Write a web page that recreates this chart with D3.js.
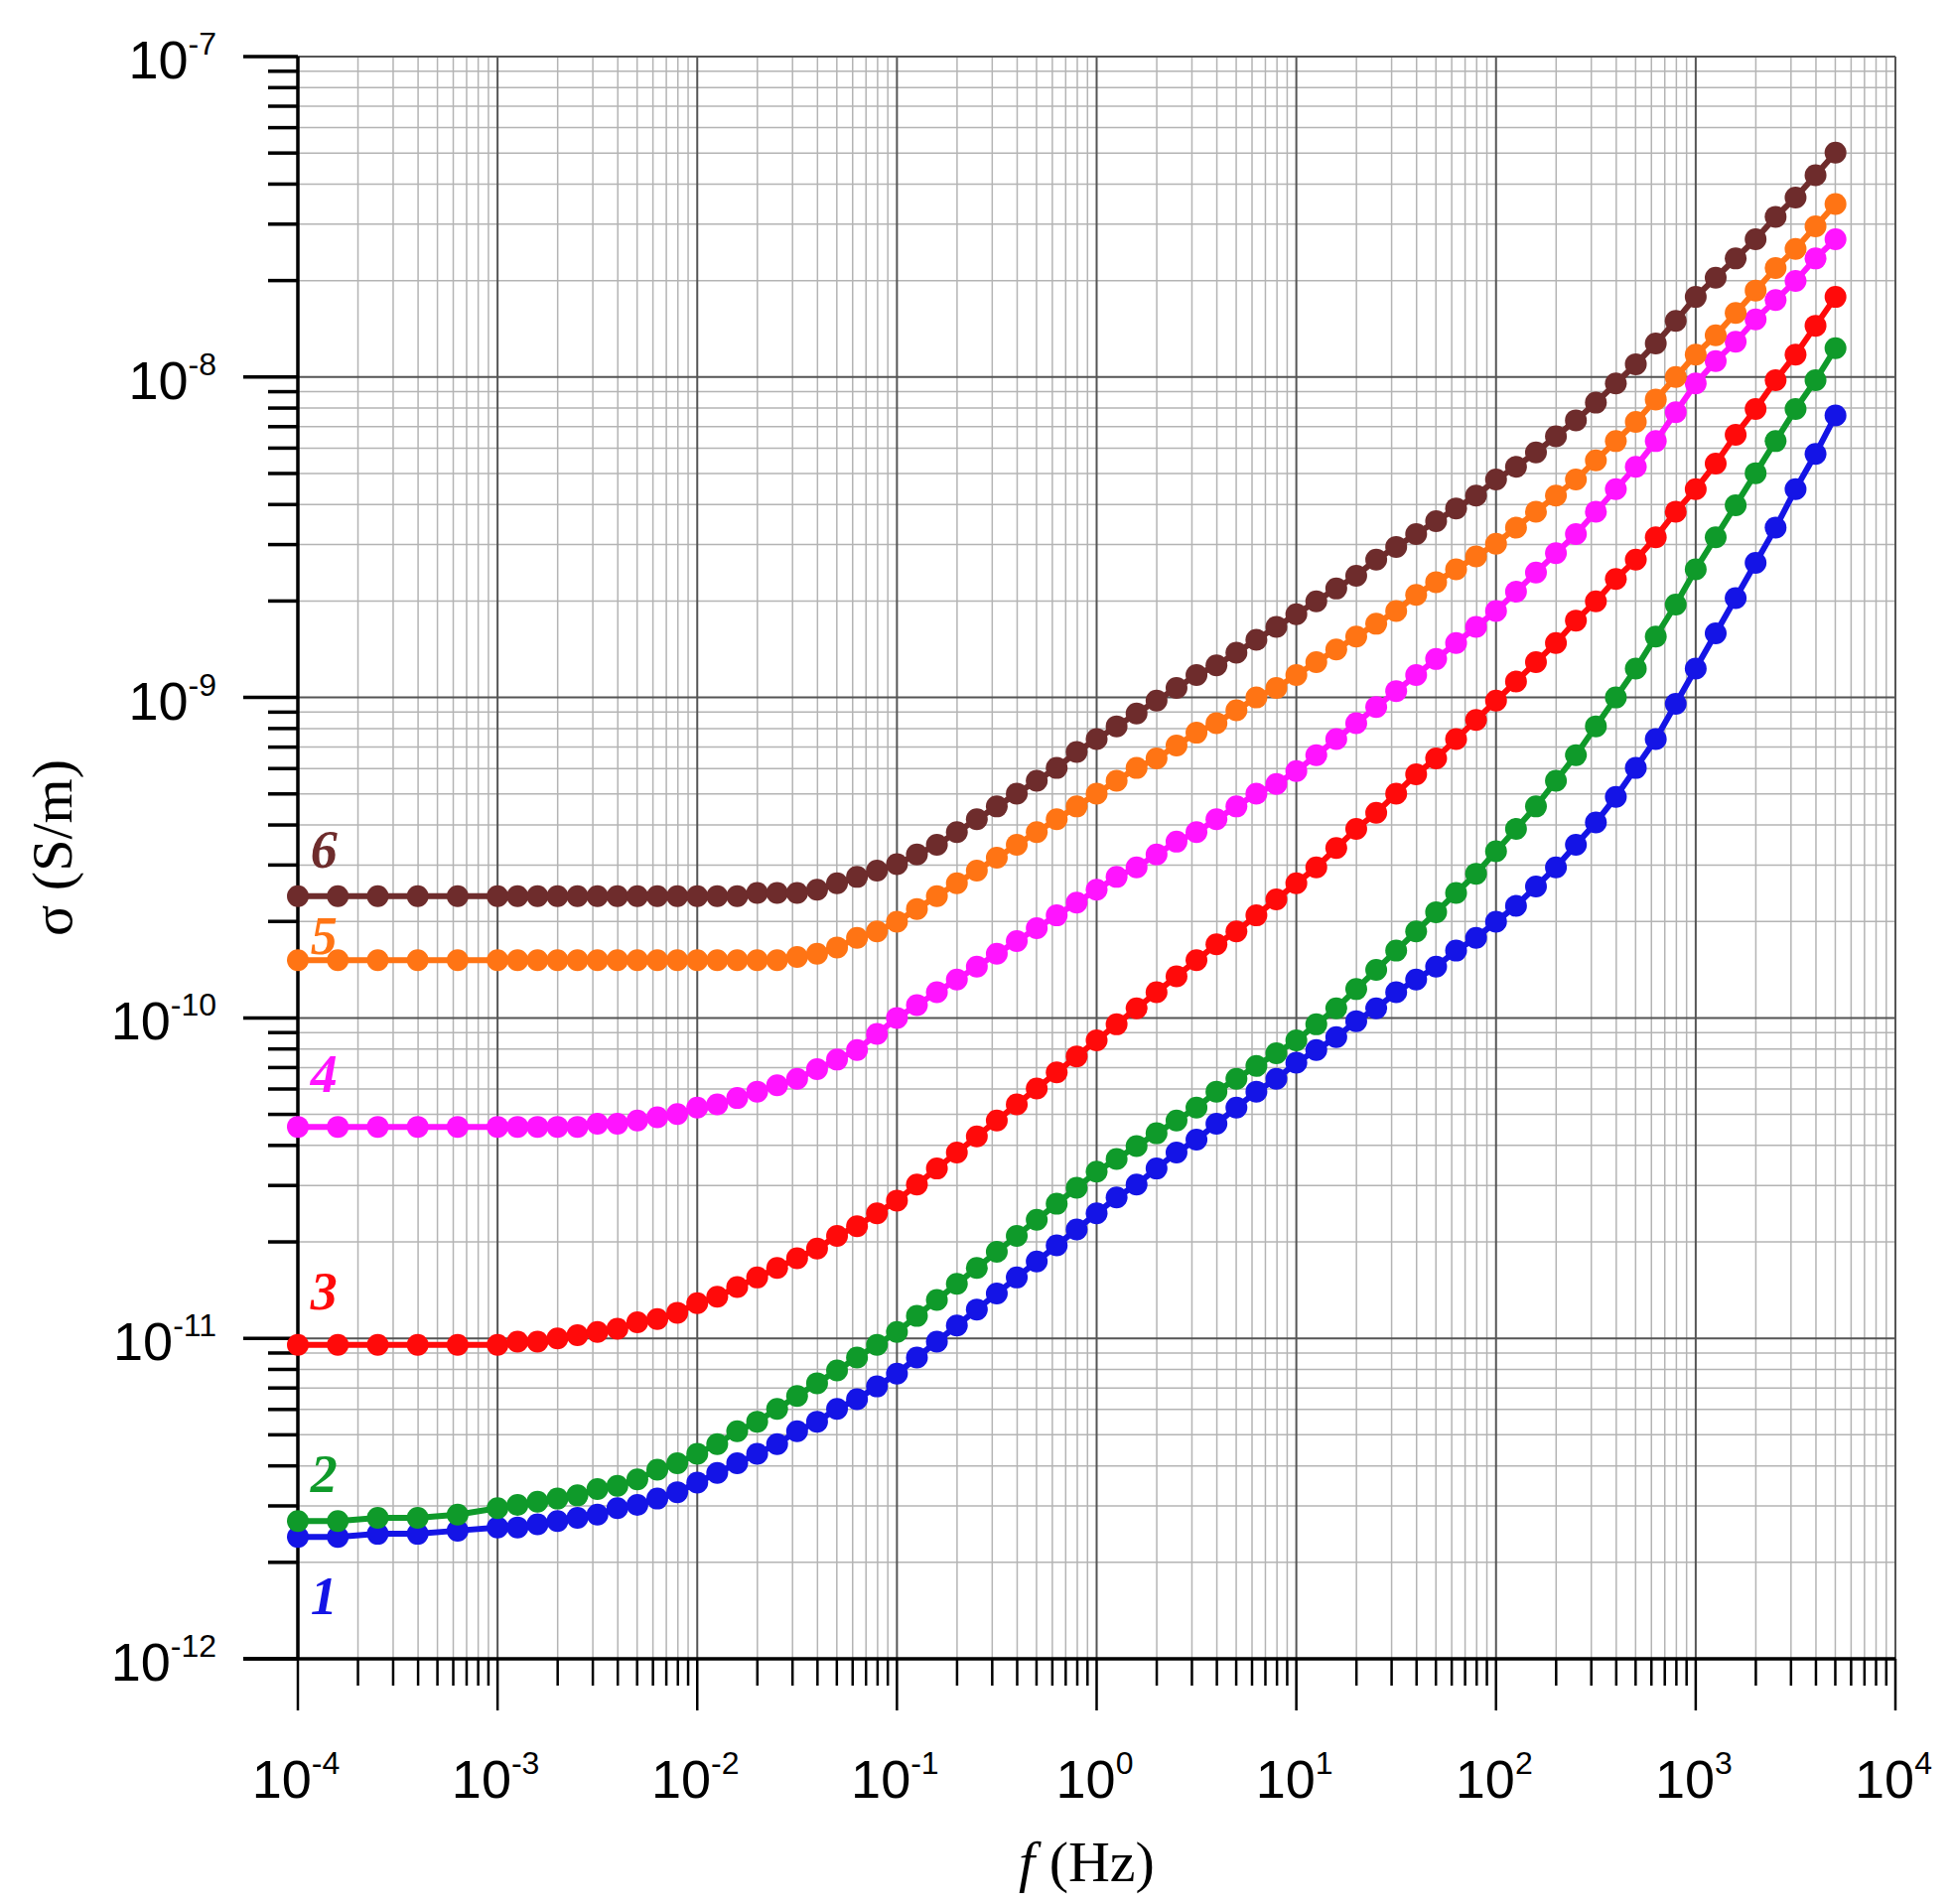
<!DOCTYPE html>
<html><head><meta charset="utf-8">
<script src="https://cdn.jsdelivr.net/npm/d3@7"></script>
<style>body{margin:0;background:#fff}</style>
</head><body>
<svg id="chart" width="1967" height="1918"></svg>
<script>
// log10 of frequency (Hz) for each measured point
var logF = [-4,-3.8,-3.6,-3.4,-3.2,
  -3,-2.9,-2.8,-2.7,-2.6,-2.5,-2.4,-2.3,-2.2,-2.1,-2,
  -1.9,-1.8,-1.7,-1.6,-1.5,-1.4,-1.3,-1.2,-1.1,-1,
  -0.9,-0.8,-0.7,-0.6,-0.5,-0.4,-0.3,-0.2,-0.1,0,
  0.1,0.2,0.3,0.4,0.5,0.6,0.7,0.8,0.9,1,
  1.1,1.2,1.3,1.4,1.5,1.6,1.7,1.8,1.9,2,
  2.1,2.2,2.3,2.4,2.5,2.6,2.7,2.8,2.9,3,
  3.1,3.2,3.3,3.4,3.5,3.6,3.7];

// log10 of conductivity (S/m) per sample
var s1 = [-11.62,-11.62,-11.61,-11.61,-11.60,
  -11.59,-11.59,-11.58,-11.57,-11.56,-11.55,-11.53,-11.52,-11.50,-11.48,-11.45,
  -11.42,-11.39,-11.36,-11.33,-11.29,-11.26,-11.22,-11.19,-11.15,-11.11,
  -11.06,-11.01,-10.96,-10.91,-10.86,-10.81,-10.76,-10.71,-10.66,-10.61,
  -10.56,-10.52,-10.47,-10.42,-10.38,-10.33,-10.28,-10.23,-10.19,-10.14,
  -10.10,-10.06,-10.01,-9.97,-9.92,-9.88,-9.84,-9.79,-9.75,-9.70,
  -9.65,-9.59,-9.53,-9.46,-9.39,-9.31,-9.22,-9.13,-9.02,-8.91,
  -8.80,-8.69,-8.58,-8.47,-8.35,-8.24,-8.12];
var s2 = [-11.57,-11.57,-11.56,-11.56,-11.55,
  -11.53,-11.52,-11.51,-11.50,-11.49,-11.47,-11.46,-11.44,-11.41,-11.39,-11.36,
  -11.33,-11.29,-11.26,-11.22,-11.18,-11.14,-11.10,-11.06,-11.02,-10.98,
  -10.93,-10.88,-10.83,-10.78,-10.73,-10.68,-10.63,-10.58,-10.53,-10.48,
  -10.44,-10.40,-10.36,-10.32,-10.28,-10.23,-10.19,-10.15,-10.11,-10.07,
  -10.02,-9.97,-9.91,-9.85,-9.79,-9.73,-9.67,-9.61,-9.55,-9.48,
  -9.41,-9.34,-9.26,-9.18,-9.09,-9.00,-8.91,-8.81,-8.71,-8.60,
  -8.50,-8.40,-8.30,-8.20,-8.10,-8.01,-7.91];
var s3 = [-11.02,-11.02,-11.02,-11.02,-11.02,
  -11.02,-11.01,-11.01,-11.00,-10.99,-10.98,-10.97,-10.95,-10.94,-10.92,-10.89,
  -10.87,-10.84,-10.81,-10.78,-10.75,-10.72,-10.68,-10.65,-10.61,-10.57,
  -10.52,-10.47,-10.42,-10.37,-10.32,-10.27,-10.22,-10.17,-10.12,-10.07,
  -10.02,-9.97,-9.92,-9.87,-9.82,-9.77,-9.73,-9.68,-9.63,-9.58,
  -9.53,-9.47,-9.41,-9.36,-9.30,-9.24,-9.19,-9.13,-9.07,-9.01,
  -8.95,-8.89,-8.83,-8.76,-8.70,-8.63,-8.57,-8.50,-8.42,-8.35,
  -8.27,-8.18,-8.10,-8.01,-7.93,-7.84,-7.75];
var s4 = [-10.34,-10.34,-10.34,-10.34,-10.34,
  -10.34,-10.34,-10.34,-10.34,-10.34,-10.33,-10.33,-10.32,-10.31,-10.30,-10.28,
  -10.27,-10.25,-10.23,-10.21,-10.19,-10.16,-10.13,-10.10,-10.05,-10.00,
  -9.96,-9.92,-9.88,-9.84,-9.80,-9.76,-9.72,-9.68,-9.64,-9.60,
  -9.56,-9.53,-9.49,-9.45,-9.42,-9.38,-9.34,-9.30,-9.27,-9.23,
  -9.18,-9.13,-9.08,-9.03,-8.98,-8.93,-8.88,-8.83,-8.78,-8.73,
  -8.67,-8.61,-8.55,-8.49,-8.42,-8.35,-8.28,-8.20,-8.11,-8.02,
  -7.95,-7.89,-7.82,-7.76,-7.70,-7.63,-7.57];
var s5 = [-9.82,-9.82,-9.82,-9.82,-9.82,
  -9.82,-9.82,-9.82,-9.82,-9.82,-9.82,-9.82,-9.82,-9.82,-9.82,-9.82,
  -9.82,-9.82,-9.82,-9.82,-9.81,-9.80,-9.78,-9.75,-9.73,-9.70,
  -9.66,-9.62,-9.58,-9.54,-9.50,-9.46,-9.42,-9.38,-9.34,-9.30,
  -9.26,-9.22,-9.19,-9.15,-9.11,-9.08,-9.04,-9.00,-8.97,-8.93,
  -8.89,-8.85,-8.81,-8.77,-8.73,-8.68,-8.64,-8.60,-8.56,-8.52,
  -8.47,-8.42,-8.37,-8.32,-8.26,-8.20,-8.14,-8.07,-8.00,-7.93,
  -7.87,-7.80,-7.73,-7.66,-7.60,-7.53,-7.46];
var s6 = [-9.62,-9.62,-9.62,-9.62,-9.62,
  -9.62,-9.62,-9.62,-9.62,-9.62,-9.62,-9.62,-9.62,-9.62,-9.62,-9.62,
  -9.62,-9.62,-9.61,-9.61,-9.61,-9.60,-9.58,-9.56,-9.54,-9.52,
  -9.49,-9.46,-9.42,-9.38,-9.34,-9.30,-9.26,-9.22,-9.17,-9.13,
  -9.09,-9.05,-9.01,-8.97,-8.93,-8.90,-8.86,-8.82,-8.78,-8.74,
  -8.70,-8.66,-8.62,-8.57,-8.53,-8.49,-8.45,-8.41,-8.37,-8.32,
  -8.28,-8.235,-8.185,-8.135,-8.08,-8.02,-7.96,-7.895,-7.825,-7.75,
  -7.69,-7.63,-7.57,-7.50,-7.44,-7.37,-7.30];

var seriesNames = ["1","2","3","4","5","6"];
var seriesValues = [s1, s2, s3, s4, s5, s6];
var seriesColors = ["#1414e6", "#0f9a2a", "#ff0a0a", "#ff14ff", "#ff7414", "#6e2c2c"];
// label anchor (log10 sigma) next to the left end of each curve
var labelLogS = [-11.86, -11.48, -10.91, -10.23, -9.80, -9.53];

var xExp = [-4,-3,-2,-1,0,1,2,3,4];
var yExp = [-12,-11,-10,-9,-8,-7];

var svg = d3.select("#chart");
var m = {left: 300, top: 57, right: 58, bottom: 247};
var W = 1967 - m.left - m.right, H = 1918 - m.top - m.bottom;
var x = d3.scaleLog().domain([1e-4, 1e4]).range([m.left, m.left + W]);
var y = d3.scaleLog().domain([1e-12, 1e-7]).range([m.top + H, m.top]);

var g = svg.append("g");
// minor grid
var minorX = [], minorY = [];
xExp.slice(0, -1).forEach(function(e){ for (var k = 2; k < 10; k++) minorX.push(k * Math.pow(10, e)); });
yExp.slice(0, -1).forEach(function(e){ for (var k = 2; k < 10; k++) minorY.push(k * Math.pow(10, e)); });

g.selectAll(".mx").data(minorX).enter().append("line")
  .attr("x1", d => x(d)).attr("x2", d => x(d)).attr("y1", m.top).attr("y2", m.top + H)
  .attr("stroke", "#b4b4b4").attr("stroke-width", 1.5);
g.selectAll(".my").data(minorY).enter().append("line")
  .attr("y1", d => y(d)).attr("y2", d => y(d)).attr("x1", m.left).attr("x2", m.left + W)
  .attr("stroke", "#b4b4b4").attr("stroke-width", 1.5);
g.selectAll(".Mx").data(xExp).enter().append("line")
  .attr("x1", d => x(Math.pow(10, d))).attr("x2", d => x(Math.pow(10, d))).attr("y1", m.top).attr("y2", m.top + H)
  .attr("stroke", "#555").attr("stroke-width", 2);
g.selectAll(".My").data(yExp).enter().append("line")
  .attr("y1", d => y(Math.pow(10, d))).attr("y2", d => y(Math.pow(10, d))).attr("x1", m.left).attr("x2", m.left + W)
  .attr("stroke", "#555").attr("stroke-width", 2);

// axes with ticks
var ax = svg.append("g");
ax.selectAll(".tmx").data(minorX).enter().append("line")
  .attr("x1", d => x(d)).attr("x2", d => x(d)).attr("y1", m.top + H).attr("y2", m.top + H + 27)
  .attr("stroke", "#000").attr("stroke-width", 2.5);
ax.selectAll(".tMx").data(xExp).enter().append("line")
  .attr("x1", d => x(Math.pow(10, d))).attr("x2", d => x(Math.pow(10, d))).attr("y1", m.top + H).attr("y2", m.top + H + 52)
  .attr("stroke", "#000").attr("stroke-width", 2.5);
ax.selectAll(".tmy").data(minorY).enter().append("line")
  .attr("y1", d => y(d)).attr("y2", d => y(d)).attr("x1", m.left - 30).attr("x2", m.left)
  .attr("stroke", "#000").attr("stroke-width", 3.5);
ax.selectAll(".tMy").data(yExp).enter().append("line")
  .attr("y1", d => y(Math.pow(10, d))).attr("y2", d => y(Math.pow(10, d))).attr("x1", m.left - 55).attr("x2", m.left)
  .attr("stroke", "#000").attr("stroke-width", 3.5);
ax.append("line").attr("x1", m.left).attr("x2", m.left).attr("y1", m.top).attr("y2", m.top + H)
  .attr("stroke", "#000").attr("stroke-width", 3.5);
ax.append("line").attr("x1", m.left - 55).attr("x2", m.left + W).attr("y1", m.top + H).attr("y2", m.top + H)
  .attr("stroke", "#000").attr("stroke-width", 3.5);

// tick labels
function pow10(sel, e) {
  sel.append("tspan").text("10");
  sel.append("tspan").attr("dy", -24).attr("font-size", 32).text(e);
}
ax.selectAll(".xl").data(xExp).enter().append("text")
  .attr("x", d => x(Math.pow(10, d)) - 2).attr("y", m.top + H + 140)
  .attr("text-anchor", "middle").attr("font-family", "Liberation Sans, Arial").attr("font-size", 54)
  .each(function(d){ pow10(d3.select(this), d); });
ax.selectAll(".yl").data(yExp).enter().append("text")
  .attr("x", m.left - 82).attr("y", d => y(Math.pow(10, d)) + 22)
  .attr("text-anchor", "end").attr("font-family", "Liberation Sans, Arial").attr("font-size", 54)
  .each(function(d){ pow10(d3.select(this), d); });

// curves
var line = d3.line().x(d => x(Math.pow(10, d[0]))).y(d => y(Math.pow(10, d[1])));
seriesValues.forEach(function(vals, i) {
  var pts = logF.map((f, j) => [f, vals[j]]);
  var sg = svg.append("g");
  sg.append("path").datum(pts).attr("d", line).attr("fill", "none")
    .attr("stroke", seriesColors[i]).attr("stroke-width", 6);
  sg.selectAll("circle").data(pts).enter().append("circle")
    .attr("cx", d => x(Math.pow(10, d[0]))).attr("cy", d => y(Math.pow(10, d[1])))
    .attr("r", 11).attr("fill", seriesColors[i]);
  svg.append("text").attr("x", x(1.35e-4)).attr("y", y(Math.pow(10, labelLogS[i])))
    .attr("text-anchor", "middle").attr("font-family", "Liberation Serif, Times New Roman")
    .attr("font-style", "italic").attr("font-weight", "bold").attr("font-size", 54)
    .attr("fill", seriesColors[i]).text(seriesNames[i]);
});

// axis titles
var xt = svg.append("text").attr("x", m.left + W / 2 - 10).attr("y", 1895)
  .attr("text-anchor", "middle").attr("font-family", "Liberation Serif, Times New Roman").attr("font-size", 58);
xt.append("tspan").attr("font-style", "italic").text("f");
xt.append("tspan").text(" (Hz)");
svg.append("text").attr("transform", "translate(72," + (m.top + H / 2 - 10) + ") rotate(-90)")
  .attr("text-anchor", "middle").attr("font-family", "Liberation Serif, Times New Roman").attr("font-size", 58)
  .text("σ (S/m)");
</script>
</body></html>
